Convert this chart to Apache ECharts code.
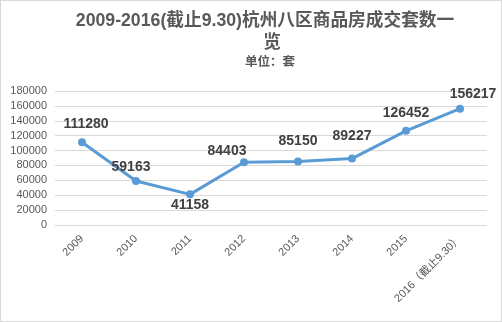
<!DOCTYPE html>
<html>
<head>
<meta charset="utf-8">
<script src="https://cdn.jsdelivr.net/npm/echarts@6/dist/echarts.min.js"></script>
<style>
html,body{margin:0;padding:0;background:#fff;}
#c{width:502px;height:322px;box-sizing:border-box;border:1px solid #D9D9D9;}
</style>
</head>
<body>
<div id="c"></div>
<script>
const categories = ['2009','2010','2011','2012','2013','2014','2015','2016（截止9.30）'];
const values = [111280, 59163, 41158, 84403, 85150, 89227, 126452, 156217];
const yTicks = [0, 20000, 40000, 60000, 80000, 100000, 120000, 140000, 160000, 180000];
const labelOffsets = [[4,-18],[-5,-14],[0,11],[-17,-11],[0,-20],[0,-22],[0,-18],[13,-15]];

const chart = echarts.init(document.getElementById('c'), null, {renderer:'canvas'});
const font = "'Liberation Sans', 'Noto Sans CJK SC', sans-serif";
chart.setOption({
  animation:false,
  backgroundColor:'#fff',
  title:[
    {text:'2009-2016(截止9.30)杭州八区商品房成交套数一', left:259, top:6, textAlign:'center',
     textStyle:{fontSize:17.7, fontWeight:'bold', color:'#595959', fontFamily:font}},
    {text:'览', left:266, top:28, textAlign:'center',
     textStyle:{fontSize:17.7, fontWeight:'bold', color:'#595959', fontFamily:font}},
    {text:'单位：套', left:264, top:50, textAlign:'center',
     textStyle:{fontSize:12.5, fontWeight:'bold', color:'#595959', fontFamily:font}}
  ],
  grid:{left:54, right:14, top:90, bottom:96, containLabel:false},
  xAxis:{
    type:'category', data:categories, boundaryGap:true,
    axisLine:{show:false}, axisTick:{show:false},
    axisLabel:{rotate:45, fontSize:11, color:'#595959', fontFamily:font, margin:12, interval:0}
  },
  yAxis:{
    type:'value', min:yTicks[0], max:yTicks[yTicks.length-1], interval:yTicks[1]-yTicks[0],
    axisLine:{show:false}, axisTick:{show:false},
    splitLine:{lineStyle:{color:'#D9D9D9', width:1}},
    axisLabel:{fontSize:11, color:'#595959', fontFamily:font, margin:8, formatter:v=>String(v)}
  },
  series:[{
    type:'line', data:values.map((v,i)=>({value:v, label:{offset:labelOffsets[i]}})),
    symbol:'circle', symbolSize:8,
    lineStyle:{color:'#5B9BD5', width:3},
    itemStyle:{color:'#5B9BD5'},
    label:{show:true, position:'inside', fontSize:14, fontWeight:'bold', color:'#404040', fontFamily:font}
  }]
});
</script>
</body>
</html>
